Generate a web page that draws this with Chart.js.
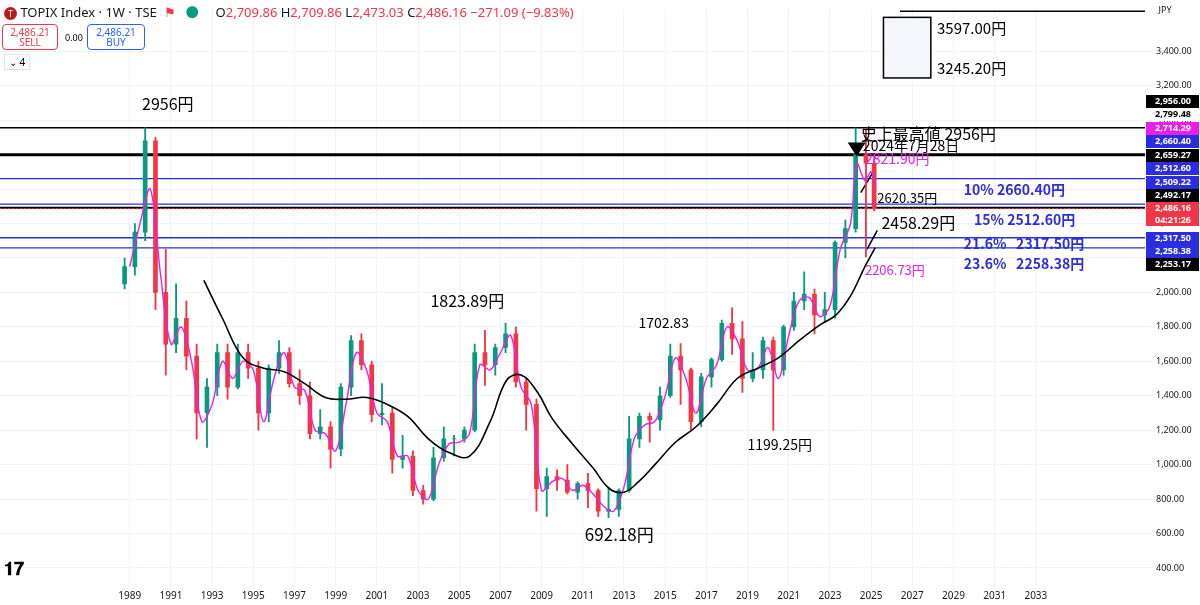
<!DOCTYPE html>
<html><head><meta charset="utf-8">
<script src="https://cdn.jsdelivr.net/npm/chart.js@4/dist/chart.umd.min.js"></script>
<style>
body{margin:0;background:#fff;font-family:"Noto Sans","Noto Sans CJK JP",sans-serif}
#wrap{position:relative;width:1200px;height:605px}
.hdr{position:absolute;left:4px;top:2px;font-size:13px;color:#131722;white-space:nowrap}
.hdr .r{color:#f23645}
.box{position:absolute;top:24px;height:22px;border-radius:4px;font-size:10px;text-align:center;line-height:10px;padding-top:2px;background:#fff}
</style></head><body>
<div id="wrap"><canvas id="c" width="1200" height="605"></canvas>
<div class="hdr"><span style="display:inline-block;width:13px;height:13px;border-radius:7px;background:#b71c1c;color:#fff;font-size:9px;text-align:center;line-height:13px">T</span> TOPIX Index · 1W · TSE &nbsp;<span style="color:#f23645">&#9873;</span> &nbsp; <span style="color:#089981">●</span> &nbsp; &nbsp; O<span class="r">2,709.86</span> H<span class="r">2,709.86</span> L<span class="r">2,473.03</span> C<span class="r">2,486.16 −271.09 (−9.83%)</span></div>
<div class="box" style="left:2px;width:54px;border:1px solid #f23645;color:#f23645">2,486.21<br>SELL</div>
<div style="position:absolute;left:65px;top:31px;font-size:9px">0.00</div>
<div class="box" style="left:87px;width:56px;border:1px solid #2962ff;color:#2962ff">2,486.21<br>BUY</div>
<div style="position:absolute;left:4px;top:54px;font-size:10px;border:1px solid #e0e3eb;padding:0 4px">⌄ 4</div>
<div style="position:absolute;left:4px;top:556px;font-size:18px;font-weight:bold">𝟏𝟕</div>
</div>
<script>
// half-year candles [t, open, high, low, close]
const candles = [
[1988.75,2050,2200,2020,2150],[1989.25,2150,2400,2100,2350],[1989.75,2350,2956,2300,2880],
[1990.25,2880,2900,1900,2000],[1990.75,2000,2250,1520,1700],[1991.25,1700,2050,1650,1850],
[1991.75,1850,1950,1550,1630],[1992.25,1630,1700,1150,1300],[1992.75,1300,1500,1100,1450],
[1993.25,1450,1700,1400,1650],[1993.75,1650,1700,1380,1450],[1994.25,1450,1700,1440,1650],
[1994.75,1650,1700,1500,1560],[1995.25,1560,1600,1200,1300],[1995.75,1300,1580,1250,1560],
[1996.25,1560,1720,1530,1650],[1996.75,1650,1680,1450,1470],[1997.25,1470,1550,1350,1400],
[1997.75,1400,1480,1150,1180],[1998.25,1180,1320,1150,1220],[1998.75,1220,1250,980,1090],
[1999.25,1090,1470,1050,1450],[1999.75,1450,1750,1400,1720],[2000.25,1720,1760,1550,1580],
[2000.75,1580,1600,1250,1290],[2001.25,1290,1470,1230,1300],[2001.75,1300,1330,950,1030],
[2002.25,1030,1170,980,1050],[2002.75,1050,1080,820,850],[2003.25,850,880,770,800],
[2003.75,800,1100,790,1040],[2004.25,1040,1220,1020,1150],[2004.75,1150,1170,1050,1150],
[2005.25,1150,1220,1130,1200],[2005.75,1200,1700,1190,1650],[2006.25,1650,1780,1460,1580],
[2006.75,1580,1700,1520,1680],[2007.25,1680,1820,1650,1760],[2007.75,1760,1800,1450,1480],
[2008.25,1480,1500,1200,1350],[2008.75,1350,1380,730,860],[2009.25,860,980,700,930],
[2009.75,930,970,850,910],[2010.25,910,1000,830,840],[2010.75,840,900,800,890],
[2011.25,890,950,750,850],[2011.75,850,860,700,730],[2012.25,730,870,692,740],
[2012.75,740,860,700,850],[2013.25,850,1280,840,1150],[2013.75,1150,1300,1100,1280],
[2014.25,1280,1300,1130,1260],[2014.75,1260,1450,1200,1400],[2015.25,1400,1700,1390,1630],
[2015.75,1630,1703,1350,1550],[2016.25,1550,1560,1200,1250],[2016.75,1250,1530,1220,1510],
[2017.25,1510,1620,1450,1610],[2017.75,1610,1840,1600,1820],[2018.25,1820,1911,1640,1730],
[2018.75,1730,1830,1420,1500],[2019.25,1500,1650,1480,1550],[2019.75,1550,1740,1500,1720],
[2020.25,1720,1740,1199,1550],[2020.75,1550,1810,1520,1800],[2021.25,1800,2000,1780,1950],
[2021.75,1950,2120,1900,1990],[2022.25,1990,2020,1760,1870],[2022.75,1870,2000,1830,1900],
[2023.25,1900,2300,1850,2290],[2023.75,2290,2420,2200,2370],[2024.25,2370,2956,2350,2800],
[2024.75,2800,2950,2206,2750],[2025.15,2750,2800,2473,2486]];
const fastMA = [[1989.0,2150],[1989.5,2400],[1990.0,2600],[1990.5,2100],[1991.0,1700],[1991.5,1800],[1992.0,1600],[1992.5,1250],[1993.0,1350],[1993.5,1600],[1994.0,1500],[1994.5,1600],[1995.0,1550],[1995.5,1250],[1996.0,1500],[1996.5,1650],[1997.0,1450],[1997.5,1430],[1998.0,1200],[1998.5,1180],[1999.0,1080],[1999.5,1350],[2000.0,1650],[2000.5,1550],[2001.0,1300],[2001.5,1250],[2002.0,1050],[2002.5,1050],[2003.0,850],[2003.5,800],[2004.0,1000],[2004.5,1120],[2005.0,1130],[2005.5,1180],[2006.0,1580],[2006.5,1550],[2007.0,1650],[2007.5,1750],[2008.0,1450],[2008.5,1350],[2009.0,850],[2009.5,900],[2010.0,920],[2010.5,850],[2011.0,880],[2011.5,830],[2012.0,760],[2012.5,730],[2013.0,870],[2013.5,1150],[2014.0,1230],[2014.5,1250],[2015.0,1400],[2015.5,1620],[2016.0,1500],[2016.5,1300],[2017.0,1500],[2017.5,1580],[2018.0,1800],[2018.5,1720],[2019.0,1550],[2019.5,1560],[2020.0,1680],[2020.5,1500],[2021.0,1750],[2021.5,1950],[2022.0,1970],[2022.5,1860],[2023.0,1920],[2023.5,2250],[2024.0,2400],[2024.3,2750],[2024.7,2650],[2025.0,2700],[2025.2,2620]];
const slowMA = [[1992.6,2070],[1993.5,1850],[1994.5,1620],[1995.5,1560],[1996.5,1540],[1997.5,1470],[1998.5,1390],[1999.5,1380],[2000.5,1390],[2001.5,1350],[2002.5,1280],[2003.5,1150],[2004.5,1070],[2005.5,1050],[2006.5,1250],[2007.3,1490],[2008,1520],[2008.8,1420],[2009.5,1270],[2010.5,1120],[2011.5,980],[2012.3,860],[2013,840],[2013.7,900],[2014.5,1000],[2015.5,1130],[2016.5,1220],[2017.5,1350],[2018.5,1500],[2019.5,1560],[2020.5,1620],[2021.5,1720],[2022.5,1810],[2023.3,1870],[2024,1980],[2024.7,2150],[2025.2,2260]];
const hLines = [[2956,'#000',1.5],[2799.48,'#000',3],[2660.4,'#2a2ee0',1.3],[2512.6,'#2a2ee0',1.3],[2492.17,'#000',2],[2317.5,'#2a2ee0',1.3],[2258.38,'#2a2ee0',1.3]];
const priceTags = [[2956,'2,956.00','#000'],[2799.48,'2,799.48','#fff'],[2714.29,'2,714.29','#e91ee9'],[2660.4,'2,660.40','#2a2ee0'],[2659.27,'2,659.27','#000'],[2512.6,'2,512.60','#2a2ee0'],[2509.22,'2,509.22','#2a2ee0'],[2492.17,'2,492.17','#000'],[2486.16,'2,486.16','#f23645'],[2317.5,'2,317.50','#2a2ee0'],[2258.38,'2,258.38','#2a2ee0'],[2253.17,'2,253.17','#000']];
const tagY = [101,114,128,141,155,168,182,195,208,238,251,264];
const notes = [[1989.6,3093,'2956円','#000',16],[2003.6,1950,'1823.89円','#000',16],[2013.7,1822,'1702.83','#000',14],[2011.1,597,'692.18円','#000',17],[2019.0,1114,'1199.25円','#000',14],[2024.7,2130,'2206.73円','#e91ee9',13],[2025.3,2547,'2620.35円','#000',13],[2025.5,2402,'2458.29円','#000',16],[2029.5,2594,'10% 2660.40円','#2a2ee0',14],[2030.0,2420,'15% 2512.60円','#2a2ee0',14],[2029.5,2280,'21.6%   2317.50円','#2a2ee0',14],[2029.5,2164,'23.6%   2258.38円','#2a2ee0',14],[2024.5,2919,'史上最高値 2956円','#000',16],[2024.6,2849,'2024年7月28日','#000',14],[2024.7,2774,'2821.90円','#e91ee9',14],[2028.2,3534,'3597.00円','#000',15],[2028.2,3302,'3245.20円','#000',15]];
const xYears = []; for (let y = 1989; y <= 2033; y += 2) xYears.push(y);
const yTicks = []; for (let p = 400; p <= 3600; p += 200) yTicks.push(p);

const up = c => c[4] >= c[1];
const colOf = c => up(c) ? '#089981' : '#f23645';

const overlay = {
  id:'overlay',
  beforeDatasetsDraw(ch){
    const {ctx, chartArea:a, scales:{x,y}} = ch;
    ctx.save();
    hLines.forEach(([p,c,w])=>{ctx.strokeStyle=c;ctx.lineWidth=w;ctx.beginPath();ctx.moveTo(a.left,y.getPixelForValue(p));ctx.lineTo(a.right,y.getPixelForValue(p));ctx.stroke();});
    ctx.setLineDash([2,2]);ctx.strokeStyle='#f23645';ctx.lineWidth=1;
    const py=y.getPixelForValue(2486.16);ctx.beginPath();ctx.moveTo(a.left,py);ctx.lineTo(a.right,py);ctx.stroke();
    ctx.setLineDash([]);
    ctx.strokeStyle='#000';ctx.lineWidth=1.5;ctx.fillStyle='#f5f6fb';
    const bx=x.getPixelForValue(2025.6), bx2=x.getPixelForValue(2027.9), by=y.getPixelForValue(3597), by2=y.getPixelForValue(3245.2);
    ctx.fillRect(bx,by,bx2-bx,by2-by);ctx.strokeRect(bx,by,bx2-bx,by2-by);
    ctx.beginPath();ctx.moveTo(x.getPixelForValue(2026.4),y.getPixelForValue(3633));ctx.lineTo(a.right,y.getPixelForValue(3633));ctx.stroke();
    ctx.lineWidth=1.5;
    [[2024.8,2250,2025.3,2360],[2024.5,2580,2025.1,2700]].forEach(s=>{ctx.beginPath();ctx.moveTo(x.getPixelForValue(s[0]),y.getPixelForValue(s[1]));ctx.lineTo(x.getPixelForValue(s[2]),y.getPixelForValue(s[3]));ctx.stroke();});
    ctx.restore();
  },
  afterDatasetsDraw(ch){
    const {ctx, chartArea:a, scales:{x,y}} = ch;
    ctx.save();ctx.textBaseline='middle';
    notes.forEach(([t,p,s,c,f])=>{ctx.fillStyle=c;ctx.font=(c==='#2a2ee0'?'bold ':'')+f+'px "Noto Sans CJK JP"';ctx.fillText(s,x.getPixelForValue(t),y.getPixelForValue(p));});
    ctx.fillStyle='#000';const tx=x.getPixelForValue(2024.3),ty=y.getPixelForValue(2800);
    ctx.beginPath();ctx.moveTo(tx-9,ty-12);ctx.lineTo(tx+9,ty-12);ctx.lineTo(tx,ty+2);ctx.fill();
    ctx.font='bold 9px "Noto Sans"';ctx.textAlign='center';
    priceTags.forEach(([p,s,c],i)=>{ctx.fillStyle=c;ctx.fillRect(a.right+1,tagY[i]-6,53,13);ctx.fillStyle=c==='#fff'?'#000':'#fff';ctx.fillText(s,a.right+28,tagY[i]+0.5);});
    ctx.fillStyle='#f23645';ctx.fillRect(a.right+1,214,53,12);ctx.fillStyle='#fff';ctx.fillText('04:21:26',a.right+28,220);
    ctx.fillStyle='#131722';ctx.font='9px "Noto Sans"';ctx.fillText('JPY',a.right+20,10);
    ctx.restore();
  }
};

new Chart(document.getElementById('c'), {
  data:{datasets:[
    {type:'line',data:slowMA.map(p=>({x:p[0],y:p[1]})),borderColor:'#000',borderWidth:1.6,pointRadius:0,tension:0.4,order:1},
    {type:'line',data:fastMA.map(p=>({x:p[0],y:p[1]})),borderColor:'#e91ee9',borderWidth:1.4,pointRadius:0,tension:0.35,order:2},
    {type:'bar',data:candles.map(c=>({x:c[0],y:[c[3],c[2]]})),backgroundColor:candles.map(colOf),barThickness:1.2,grouped:false,order:4},
    {type:'bar',data:candles.map(c=>({x:c[0],y:[Math.min(c[1],c[4]),Math.max(c[1],c[4])]})),backgroundColor:candles.map(colOf),barThickness:4,grouped:false,order:3}
  ]},
  options:{
    responsive:false,animation:false,
    layout:{padding:{left:0,right:0,top:0,bottom:0}},
    plugins:{legend:{display:false},tooltip:{enabled:false}},
    scales:{
      x:{type:'linear',offset:false,min:1982.7,max:2038.3,grid:{color:'#f0f3fa',offset:false},border:{display:false},
        afterBuildTicks:s=>{s.ticks=xYears.map(v=>({value:v}));},
        ticks:{color:'#131722',font:{size:10,family:'Noto Sans'},callback:v=>v,maxRotation:0,autoSkip:false}},
      y:{position:'right',min:336,max:3649,grid:{color:'#f0f3fa'},border:{display:false},
        afterFit:s=>{s.width=55;},
        afterBuildTicks:s=>{s.ticks=yTicks.filter(v=>v<=3400).map(v=>({value:v}));},
        ticks:{color:'#131722',font:{size:9,family:'Noto Sans'},callback:v=>v.toLocaleString('en-US',{minimumFractionDigits:2})}}
    }
  },
  plugins:[overlay]
});
</script></body></html>
